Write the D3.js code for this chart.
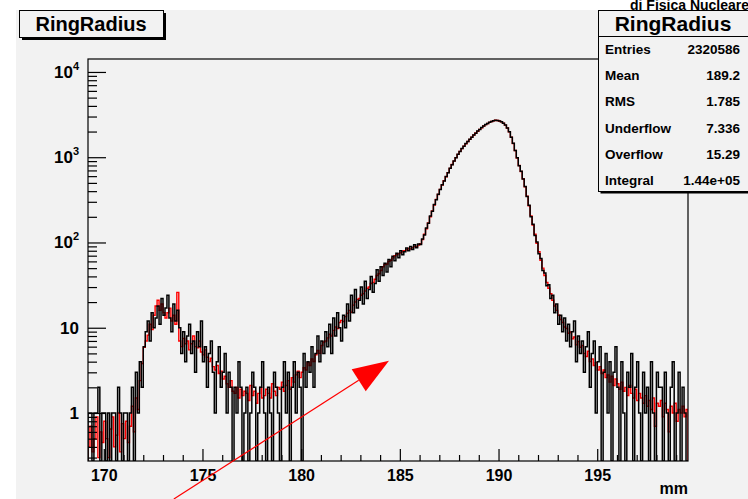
<!DOCTYPE html>
<html>
<head>
<meta charset="utf-8">
<script src="https://cdn.jsdelivr.net/npm/d3@7"></script>
<style>
  html, body { margin: 0; padding: 0; background: #ffffff; }
  svg { display: block; }
  text { font-family: "Liberation Sans", Arial, Helvetica, sans-serif; font-weight: bold; fill: #000; }
</style>
</head>
<body>
<svg id="chart" width="748" height="499"></svg>
<script>
// Histogram binning (mm): 304 bins of 0.1 mm
const binStart = 169.2;
const binWidth = 0.1;

// Weighted (reference) distribution, drawn in red; one row per mm
const redCounts = [
  0.4, 0.7, 0.35, 0.5, 0.9, 0.3, 0.6, 0.45, 0.8, 0.5,
  0.3, 0.65, 0.9, 0.4, 0.55, 1.0, 0.35, 0.75, 0.5, 0.8,
  0.45, 0.7, 1.2, 0.6, 1.5, 1.1, 2.4, 3.8, 5.9, 7.0,
  8.2, 11, 9.5, 14, 18, 21, 16, 19, 15, 13,
  15, 17, 12, 14, 11, 26, 7, 6, 7.5, 6.5,
  7, 5.5, 6.5, 8, 6, 5.8, 7, 5.2, 4.8, 5.5,
  4.5, 4.0, 4.4, 3.5, 3.2, 3.6, 2.9, 3.1, 2.5, 2.7,
  2.2, 2.0, 2.4, 1.8, 1.7, 2.0, 1.5, 1.9, 1.6, 1.8,
  1.7, 1.4, 2.1, 1.6, 1.8, 1.3, 1.7, 2.0, 1.5, 1.6,
  1.9, 1.7, 1.5, 2.2, 1.8, 1.6, 2.0, 1.9, 2.3, 1.8,
  2.1, 2.4, 1.9, 2.6, 2.3, 2.8, 3.1, 2.6, 3.0, 3.4,
  3.2, 3.9, 3.6, 4.3, 4.0, 4.8, 5.4, 5.0, 6.2, 6.8,
  7.0, 7.6, 8.4, 8.0, 9.3, 10.2, 9.8, 11.5, 12.2, 11.8,
  13.5, 14.8, 16.0, 15.2, 18.4, 20, 21.5, 22, 24, 25,
  27, 29, 30, 33, 34, 37, 41, 43, 47, 52,
  55, 56, 60, 62, 66, 70, 72, 74, 76, 79,
  80, 82, 85, 84, 87, 90, 89, 93, 97, 108,
  125, 145, 170, 200, 235, 275, 320, 365, 420, 470,
  530, 590, 660, 740, 820, 900, 990, 1080, 1170, 1260,
  1350, 1440, 1530, 1620, 1720, 1820, 1920, 2020, 2120, 2220,
  2320, 2410, 2490, 2560, 2620, 2680, 2710, 2700, 2660, 2600,
  2510, 2380, 2200, 1980, 1720, 1450, 1200, 980, 800, 680,
  560, 450, 350, 270, 205, 160, 125, 98, 78, 62,
  50, 41, 34, 29, 25, 21, 18, 16, 14, 12.5,
  11.5, 10.2, 9.8, 8.6, 8.9, 7.4, 7.8, 6.3, 6.9, 5.9,
  6.2, 5.0, 4.6, 5.3, 4.0, 4.3, 3.6, 3.9, 3.2, 3.5,
  2.9, 3.2, 2.6, 2.8, 2.3, 2.7, 2.1, 2.5, 2.2, 1.9,
  2.3, 1.8, 2.0, 1.6, 2.1, 1.7, 1.5, 1.9, 1.4, 1.7,
  1.5, 1.3, 1.6, 1.2, 1.4, 1.1, 1.5, 0.7, 1.3, 1.2,
  1.4, 0.9, 1.3, 1.1, 0.6, 1.2, 1.0, 1.3, 0.8, 1.1,
  1.0, 1.2, 0.9, 1.1
];

// Raw counts, drawn in black; one row per mm
const blackCounts = [
  1, 1, 0, 1, 1, 2, 0, 1, 1, 0,
  1, 0, 1, 1, 0, 2, 1, 0, 1, 1,
  0, 1, 2, 0, 3, 1, 4, 2, 6, 9,
  12, 7, 15, 10, 13, 18, 11, 22, 14, 17,
  24, 13, 9, 19, 12, 16, 10, 5, 9, 4,
  8, 11, 5, 7, 3, 9, 6, 12, 4, 6,
  2, 5, 7, 3, 1, 4, 6, 2, 3, 5,
  1, 3, 2, 0, 2, 1, 4, 2, 0, 1,
  2, 0, 1, 3, 2, 0, 1, 2, 4, 1,
  0, 2, 1, 0, 3, 2, 1, 0, 2, 4,
  1, 3, 0, 2, 4, 1, 3, 2, 0, 5,
  2, 4, 3, 6, 2, 5, 8, 4, 7, 5,
  9, 6, 11, 5, 13, 8, 15, 10, 7, 14,
  10, 19, 12, 24, 15, 28, 17, 21, 30, 19,
  35, 22, 28, 40, 26, 33, 48, 35, 52, 41,
  57, 45, 63, 52, 69, 61, 75, 66, 80, 72,
  78, 86, 80, 90, 83, 94, 87, 96, 95, 110,
  122, 148, 168, 204, 232, 278, 318, 368, 418, 474,
  526, 594, 656, 744, 816, 904, 986, 1084, 1166, 1264,
  1346, 1444, 1526, 1624, 1716, 1824, 1916, 2024, 2116, 2224,
  2316, 2414, 2486, 2564, 2616, 2684, 2706, 2704, 2656, 2604,
  2506, 2384, 2196, 1984, 1716, 1454, 1196, 984, 796, 684,
  556, 454, 346, 274, 201, 164, 121, 101, 74, 65,
  47, 44, 31, 32, 22, 24, 15, 19, 11, 14,
  9, 13, 7, 11, 6, 9, 12, 4, 8, 5,
  7, 3, 6, 9, 2, 5, 7, 1, 4, 6,
  0, 3, 5, 1, 4, 0, 3, 6, 2, 0,
  4, 1, 0, 3, 2, 5, 0, 2, 4, 1,
  0, 3, 1, 2, 0, 4, 1, 0, 3, 2,
  2, 0, 3, 1, 0, 2, 4, 0, 1, 3,
  0, 2, 1, 0
];

// Axis ranges and tick labels
const xDomain = [169.2, 199.6];
const yDomain = [0.2735, 14190];
const xMajorTicks = [170, 175, 180, 185, 190, 195];
const yMajorTicks = [1, 10, 100, 1000, 10000];
const yTickLabels = [["1", ""], ["10", ""], ["10", "2"], ["10", "3"], ["10", "4"]];

// Statistics panel
const statsTitle = "RingRadius";
const statsNames = ["Entries", "Mean", "RMS", "Underflow", "Overflow", "Integral"];
const statsValues = ["2320586", "189.2", "1.785", "7.336", "15.29", "1.44e+05"];

// Annotation arrow, data coordinates (mm, counts)
const arrowFrom = [173.55, 0.098];
const arrowTo = [184.45, 4.1];

const svg = d3.select("#chart");
const W = 748, H = 499;
const frame = { left: 88, right: 688, top: 59, bottom: 461 };

// Canvas background
svg.append("rect").attr("x", 16).attr("y", 10).attr("width", W - 16).attr("height", H - 10)
  .attr("fill", "#f2f2f2");

// Header line of the page, running off the top-right corner
svg.append("text").attr("x", 630).attr("y", 10).attr("font-size", 14)
  .text("di Fisica Nucleare");

const x = d3.scaleLinear().domain(xDomain).range([frame.left, frame.right]);
const y = d3.scaleLog().domain(yDomain).range([frame.bottom, frame.top]);

// Clip region for the histograms
svg.append("clipPath").attr("id", "frameClip")
  .append("rect").attr("x", frame.left).attr("y", frame.top)
  .attr("width", frame.right - frame.left).attr("height", frame.bottom - frame.top);

function stepPath(counts) {
  const yv = v => y(Math.max(v, yDomain[0]));
  let d = "M" + x(binStart) + "," + y(yDomain[0]);
  counts.forEach((v, i) => {
    const x0 = x(binStart + i * binWidth), x1 = x(binStart + (i + 1) * binWidth);
    d += "L" + x0 + "," + yv(v) + "L" + x1 + "," + yv(v);
  });
  d += "L" + x(binStart + counts.length * binWidth) + "," + y(yDomain[0]);
  return d;
}

const plot = svg.append("g").attr("clip-path", "url(#frameClip)");
plot.append("path").attr("d", stepPath(redCounts))
  .attr("fill", "none").attr("stroke", "#ff0000").attr("stroke-width", 1.4);
plot.append("path").attr("d", stepPath(blackCounts))
  .attr("fill", "none").attr("stroke", "#000").attr("stroke-width", 1.5);

// Frame
svg.append("rect").attr("x", frame.left).attr("y", frame.top)
  .attr("width", frame.right - frame.left).attr("height", frame.bottom - frame.top)
  .attr("fill", "none").attr("stroke", "#000").attr("stroke-width", 1.2);

// X axis: major ticks every 5 mm, minor every 1 mm, ticks pointing inward
const xMinor = d3.range(170, 200, 1).filter(v => !xMajorTicks.includes(v));
const xAxisMajor = d3.axisBottom(x).tickValues(xMajorTicks).tickSize(-12).tickFormat(d3.format("d")).tickPadding(9);
const xAxisMinor = d3.axisBottom(x).tickValues(xMinor).tickSize(-6).tickFormat("");
const gxMinor = svg.append("g").attr("transform", `translate(0,${frame.bottom})`).call(xAxisMinor);
const gx = svg.append("g").attr("transform", `translate(0,${frame.bottom})`).call(xAxisMajor);
[gx, gxMinor].forEach(g => {
  g.select(".domain").remove();
  g.selectAll("line").attr("stroke", "#000").attr("stroke-width", 1.2);
});
gx.selectAll("text").attr("font-size", 16).attr("font-family", "Liberation Sans, Arial, sans-serif")
  .attr("font-weight", "bold").attr("fill", "#000").attr("dy", "0.71em");

svg.append("text").attr("x", frame.right).attr("y", 494).attr("text-anchor", "end")
  .attr("font-size", 16).text("mm");

// Y axis: decades with 2..9 minor ticks, ticks pointing inward
const yMinor = [];
[0.1, 1, 10, 100, 1000, 10000].forEach(dec => {
  for (let k = 2; k <= 9; k++) {
    const v = dec * k;
    if (v >= yDomain[0] && v <= yDomain[1]) yMinor.push(v);
  }
});
const yAxisMajor = d3.axisLeft(y).tickValues(yMajorTicks).tickSize(-18).tickFormat("");
const yAxisMinor = d3.axisLeft(y).tickValues(yMinor).tickSize(-9).tickFormat("");
const gyMinor = svg.append("g").attr("transform", `translate(${frame.left},0)`).call(yAxisMinor);
const gy = svg.append("g").attr("transform", `translate(${frame.left},0)`).call(yAxisMajor);
[gy, gyMinor].forEach(g => {
  g.select(".domain").remove();
  g.selectAll("line").attr("stroke", "#000").attr("stroke-width", 1.2);
});

// Y tick labels with exponents
yMajorTicks.forEach((v, i) => {
  const [base, exp] = yTickLabels[i];
  const t = svg.append("text").attr("x", 79).attr("y", y(v) + 6).attr("font-size", 17)
    .attr("text-anchor", "end");
  if (exp) {
    t.append("tspan").text(base);
    t.append("tspan").attr("font-size", 11).attr("dy", -8).text(exp);
  } else {
    t.text(base);
  }
});

// Title box with shadow
const title = svg.append("g");
title.append("rect").attr("x", 22).attr("y", 13).attr("width", 144).attr("height", 27).attr("fill", "#000");
title.append("rect").attr("x", 19.5).attr("y", 10.5).attr("width", 144).attr("height", 27)
  .attr("fill", "#f2f2f2").attr("stroke", "#000").attr("stroke-width", 1);
title.append("text").attr("x", 91).attr("y", 31).attr("text-anchor", "middle")
  .attr("font-size", 20).text("RingRadius");

// Statistics panel with shadow
const stats = svg.append("g");
const sx = 598.5, sy = 10.5, sw = 152, sh = 181;
stats.append("rect").attr("x", sx + 2).attr("y", sy + 2).attr("width", sw).attr("height", sh).attr("fill", "#000");
stats.append("rect").attr("x", sx).attr("y", sy).attr("width", sw).attr("height", sh)
  .attr("fill", "#f2f2f2").attr("stroke", "#000").attr("stroke-width", 1);
stats.append("line").attr("x1", sx).attr("x2", sx + sw).attr("y1", 36.5).attr("y2", 36.5)
  .attr("stroke", "#000").attr("stroke-width", 1);
stats.append("text").attr("x", 673).attr("y", 31).attr("text-anchor", "middle")
  .attr("font-size", 21).text(statsTitle);
statsNames.forEach((name, i) => {
  const ty = 54 + i * 26.2;
  stats.append("text").attr("x", 605).attr("y", ty).attr("font-size", 13.5).text(name);
  stats.append("text").attr("x", 740).attr("y", ty).attr("text-anchor", "end")
    .attr("font-size", 13.5).text(statsValues[i]);
});

// Annotation arrow
const ax0 = x(arrowFrom[0]), ay0 = y(arrowFrom[1]);
const ax1 = x(arrowTo[0]), ay1 = y(arrowTo[1]);
const ang = Math.atan2(ay1 - ay0, ax1 - ax0);
const headLen = 36, headHalf = 13;
const bx = ax1 - headLen * Math.cos(ang), by = ay1 - headLen * Math.sin(ang);
svg.append("line").attr("x1", ax0).attr("y1", ay0).attr("x2", bx).attr("y2", by)
  .attr("stroke", "#ff0000").attr("stroke-width", 1.2);
svg.append("polygon")
  .attr("points", [
    [ax1, ay1],
    [bx + headHalf * Math.sin(ang), by - headHalf * Math.cos(ang)],
    [bx - headHalf * Math.sin(ang), by + headHalf * Math.cos(ang)]
  ].map(p => p.join(",")).join(" "))
  .attr("fill", "#ff0000");
</script>
</body>
</html>
